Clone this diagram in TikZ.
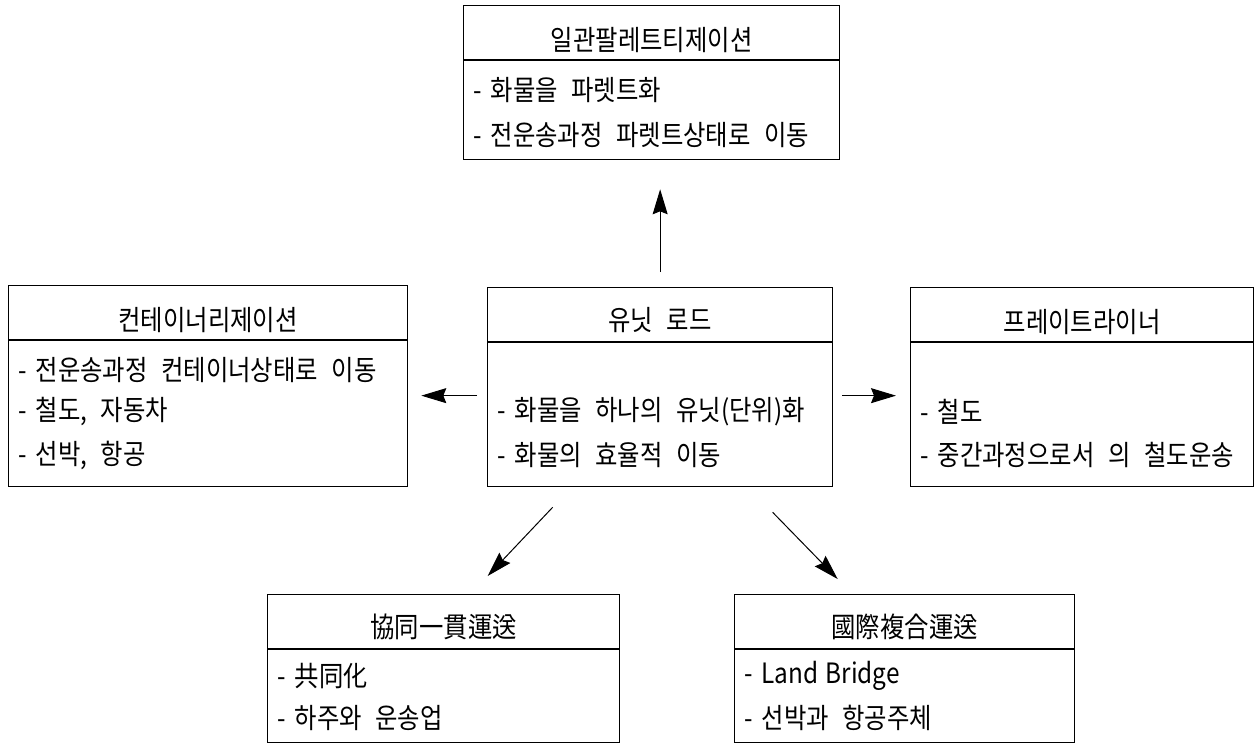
\documentclass[tikz,border=0pt]{standalone}
\usepackage{fontspec}
\newfontfamily\kr[FakeStretch=0.87,WordSpace=2.5]{Noto Sans CJK KR}
\usetikzlibrary{arrows.meta,calc}
\newcommand\itemdash{-\hspace{9pt}}
\begin{document}
\begin{tikzpicture}[x=1pt,y=-1pt,
  box/.style={draw, line width=1.3pt, rectangle, anchor=north west, inner sep=0pt},
  hdr/.style={font=\kr\fontsize{28}{32}\selectfont, inner sep=0pt, anchor=center},
  itm/.style={font=\kr\fontsize{28}{32}\selectfont, inner sep=0pt, anchor=west},
  arr/.style={line width=1pt, -{Stealth[length=25pt,width=15pt,inset=3pt]}}]
\useasboundingbox (0,0) rectangle (1258,745);
% boxes
\node[box, minimum width=376, minimum height=154] (top) at (463,5) {};
\node[box, minimum width=399, minimum height=201] (lft) at (8,285) {};
\node[box, minimum width=345, minimum height=199] (cen) at (487,287) {};
\node[box, minimum width=343, minimum height=199] (rgt) at (910,287) {};
\node[box, minimum width=352, minimum height=148] (bl) at (267,594) {};
\node[box, minimum width=340, minimum height=148] (br) at (734,594) {};
% header lines
\foreach \b in {top,lft,cen,rgt,bl,br}
  \draw[line width=1.3pt] ([yshift=-55pt]\b.north west) -- ([yshift=-55pt]\b.north east);
% headers
\node[hdr] (toph) at ([yshift=-35pt]top.north) {일관팔레트티제이션};
\node[hdr] (lfth) at ([yshift=-35pt]lft.north) {컨테이너리제이션};
\node[hdr] (cenh) at ([yshift=-33pt]cen.north) {유닛 로드};
\node[hdr] (rgth) at ([yshift=-35pt]rgt.north) {프레이트라이너};
\node[hdr] (blh) at ([yshift=-33pt]bl.north) {協同一貫運送};
\node[hdr] (brh) at ([yshift=-33pt]br.north) {國際複合運送};
% items
\node[itm] (top1) at (473,90) {\itemdash 화물을 파렛트화};
\node[itm] (top2) at (473,135) {\itemdash 전운송과정 파렛트상태로 이동};
\node[itm] (lft1) at (18,370) {\itemdash 전운송과정 컨테이너상태로 이동};
\node[itm] (lft2) at (18,412) {\itemdash 철도, 자동차};
\node[itm] (lft3) at (18,455) {\itemdash 선박, 항공};
\node[itm] (cen1) at (497,412) {\itemdash 화물을 하나의 유닛(단위)화};
\node[itm] (cen2) at (497,455) {\itemdash 화물의 효율적 이동};
\node[itm] (rgt1) at (920,412) {\itemdash 철도};
\node[itm] (rgt2) at (920,455) {\itemdash 중간과정으로서 의 철도운송};
\node[itm] (bl1) at (277,676) {\itemdash 共同化};
\node[itm] (bl2) at (277,718) {\itemdash 하주와 운송업};
\node[itm] (br1) at (744,676) {\itemdash Land\hspace{7pt}Bridge};
\node[itm] (br2) at (744,718) {\itemdash 선박과 항공주체};
% arrows
\draw[arr, shorten <=15pt, shorten >=29pt] (cen.north) -- (cen.north |- top.south);
\draw[arr, shorten <=10pt, shorten >=13pt] ([yshift=-8.5pt]cen.west) -- ([yshift=-9.5pt]lft.east);
\draw[arr, shorten <=9pt, shorten >=14pt] ([yshift=-8.5pt]cen.east) -- ([yshift=-8.5pt]rgt.west);
\draw[arr] ($(cen.south)+(-107.5,20)$) -- ($(bl.north)+(44,-18)$);
\draw[arr] ($(cen.south)+(112.5,25)$) -- ($(br.north)+(-67,-15)$);
\end{tikzpicture}
\end{document}
